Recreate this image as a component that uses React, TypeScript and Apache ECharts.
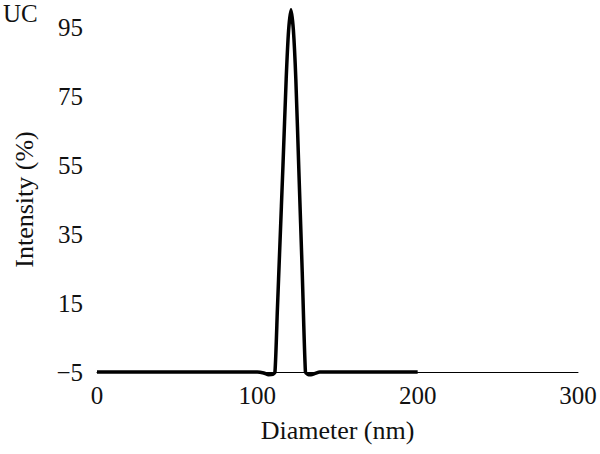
import React, { useEffect, useRef } from "react";
import * as echarts from "echarts";

const diameters = [0, 20, 40, 60, 80, 100, 104, 107, 109.5, 111, 112.5, 114, 116, 118, 119.5, 121, 122.5, 124, 126, 128, 130, 131.5, 133.5, 136, 139, 150, 170, 200];
const intensities = [-5, -5, -5, -5, -5, -5, -5.3, -5.8, -5.7, -5, 13, 31, 55, 80, 94, 100, 94, 80, 52, 24, -5, -5.7, -5.8, -5.4, -5, -5, -5, -5];
const yTicks = [-5, 15, 35, 55, 75, 95];
const xTicks = [0, 100, 200, 300];

export default function App() {
  const ref = useRef<HTMLDivElement>(null);
  useEffect(() => {
    if (!ref.current) return;
    const chart = echarts.init(ref.current, null, { renderer: "svg" });
    const font = "'Liberation Serif', 'DejaVu Serif', serif";
    chart.setOption({
      animation: false,
      textStyle: { fontFamily: font },
      grid: { left: 97, right: 22, top: 27, bottom: 82 },
      graphic: [
        {
          type: "text",
          left: 3,
          top: 1,
          style: { text: "UC", fontSize: 25, fontFamily: font, fill: "#111" },
        },
      ],
      xAxis: {
        type: "value",
        min: xTicks[0],
        max: xTicks[xTicks.length - 1],
        interval: 100,
        name: "Diameter (nm)",
        nameLocation: "middle",
        nameGap: 45,
        nameTextStyle: { fontSize: 26, color: "#111", fontFamily: font, verticalAlign: "top" },
        axisLine: { show: true, onZero: false, lineStyle: { color: "#000", width: 1 } },
        axisTick: { show: false },
        splitLine: { show: false },
        axisLabel: { fontSize: 25, color: "#111", margin: 11, fontFamily: font },
      },
      yAxis: {
        type: "value",
        min: yTicks[0],
        max: yTicks[yTicks.length - 1],
        interval: 20,
        name: "Intensity (%)",
        nameLocation: "middle",
        nameGap: 60,
        nameTextStyle: { fontSize: 26, color: "#111", fontFamily: font },
        axisLine: { show: false },
        axisTick: { show: false },
        splitLine: { show: false },
        axisLabel: {
          fontSize: 25,
          color: "#111",
          margin: 14,
          fontFamily: font,
          formatter: (v: number) => (v < 0 ? "\u2212" + Math.abs(v) : String(v)),
        },
      },
      series: [
        {
          type: "line",
          data: diameters.map((d, i) => [d, intensities[i]]),
          smooth: 0.2,
          clip: false,
          showSymbol: false,
          lineStyle: { color: "#000", width: 3.5 },
        },
      ],
    });
    return () => chart.dispose();
  }, []);
  return (
    <div
      ref={ref}
      style={{ position: "absolute", left: 0, top: 0, width: 600, height: 454, background: "#fff" }}
    />
  );
}
